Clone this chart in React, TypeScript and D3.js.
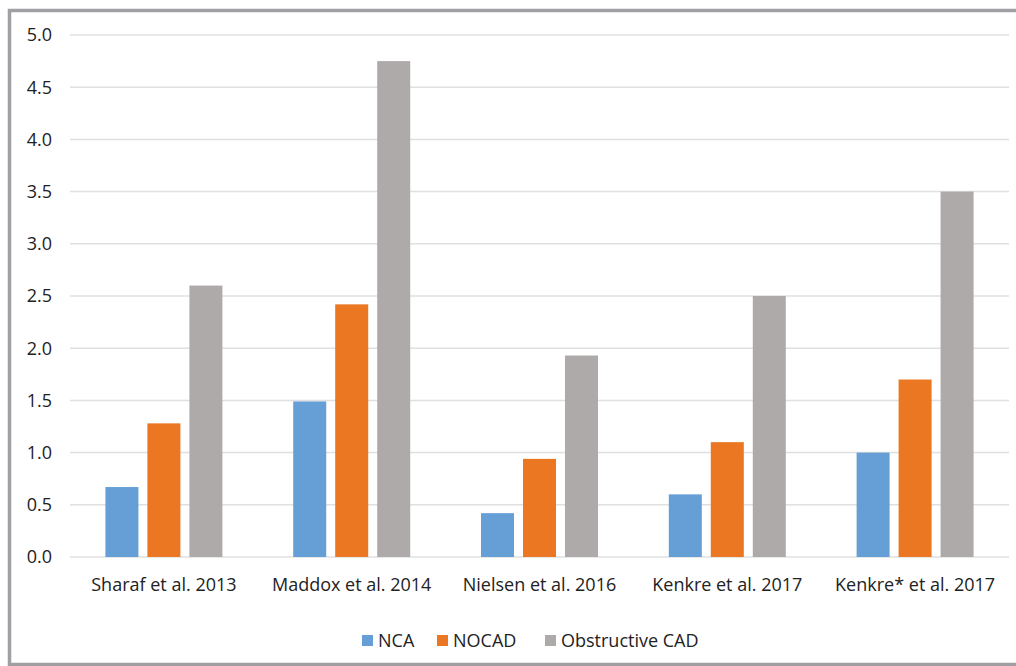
import React from "react";
import * as d3 from "d3";

const categories = ["Sharaf et al. 2013", "Maddox et al. 2014", "Nielsen et al. 2016", "Kenkre et al. 2017", "Kenkre* et al. 2017"];
const seriesNames = ["NCA", "NOCAD", "Obstructive CAD"];
const ncaValues = [0.67, 1.49, 0.42, 0.6, 1.0];
const nocadValues = [1.28, 2.42, 0.94, 1.1, 1.7];
const cadValues = [2.6, 4.75, 1.93, 2.5, 3.5];
const yTicks = [0, 0.5, 1, 1.5, 2, 2.5, 3, 3.5, 4, 4.5, 5];
const colors = ["#659FD6", "#EB7722", "#AEAAAA"];

const W = 1016, H = 666;
const left = 70, right = 1009, top = 35, bottom = 557;

export default function App() {
  const series = [ncaValues, nocadValues, cadValues];
  const x = d3.scaleBand<string>().domain(categories).range([left, right]).paddingInner(0).paddingOuter(0);
  const inner = d3.scaleBand<string>().domain(seriesNames).range([0, x.bandwidth()]).paddingInner(0.214).paddingOuter(0.843);
  const y = d3.scaleLinear().domain([0, 5]).range([bottom, top]);
  const font = "Open Sans, Liberation Sans, sans-serif";
  const fs = 18;
  const legendX = [362, 437, 545];
  return (
    <svg width={W} height={H} style={{ position: "absolute", left: 0, top: 0 }} fontFamily={font}>
      <rect x={0} y={0} width={W} height={H} fill="#fff" />
      {yTicks.map((t) => (
        <g key={t}>
          <line x1={left} x2={right} y1={y(t)} y2={y(t)} stroke="#E0E0E0" strokeWidth={1.5} />
          <text x={52} y={y(t)} dy="0.35em" textAnchor="end" fontSize={fs} fill="#222">{t.toFixed(1)}</text>
        </g>
      ))}
      {categories.map((c, i) => (
        <g key={c}>
          {series.map((s, j) => (
            <rect key={j} x={(x(c) as number) + (inner(seriesNames[j]) as number)} width={inner.bandwidth()} y={y(s[i])} height={y(0) - y(s[i])} fill={colors[j]} />
          ))}
          <text x={(x(c) as number) + x.bandwidth() / 2} y={591} textAnchor="middle" fontSize={fs} fill="#222">{c}</text>
        </g>
      ))}
      {seriesNames.map((n, j) => (
        <g key={n}>
          <rect x={legendX[j]} y={635} width={11} height={11} fill={colors[j]} />
          <text x={legendX[j] + 16} y={647} fontSize={fs} fill="#222">{n}</text>
        </g>
      ))}
      <path d={`M${W + 5},10.5 H9.5 V664.5 H${W + 5}`} fill="none" stroke="#A0A0A4" strokeWidth={3.5} />
    </svg>
  );
}
